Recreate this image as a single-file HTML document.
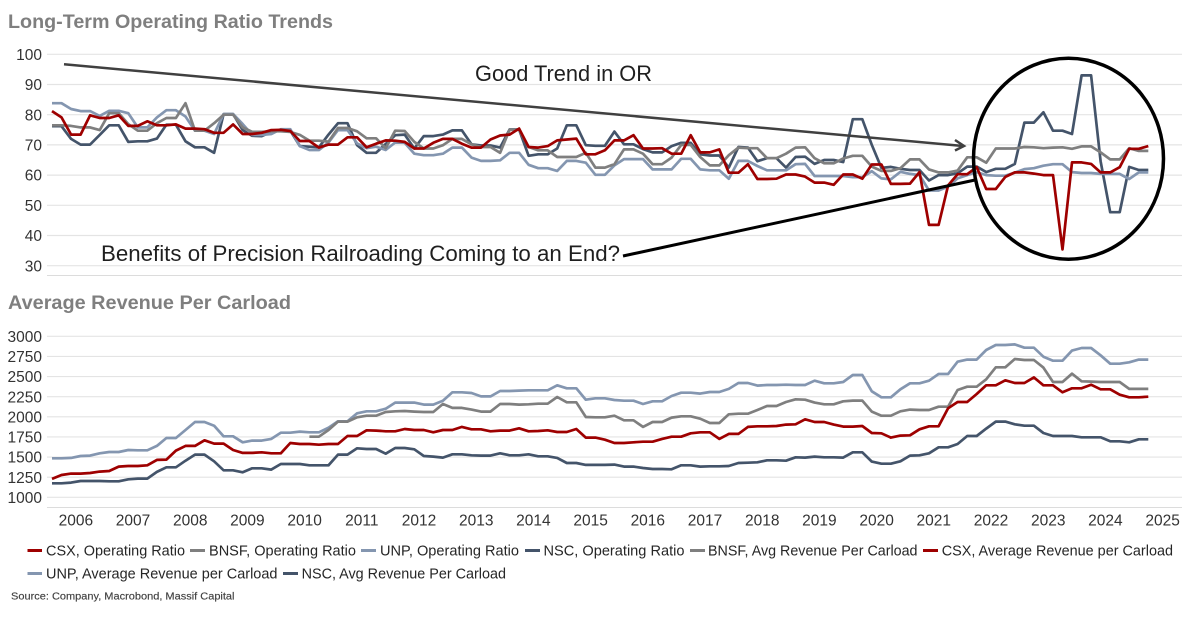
<!DOCTYPE html>
<html lang="en">
<head>
<meta charset="utf-8">
<title>Long-Term Operating Ratio Trends</title>
<style>
html,body{margin:0;padding:0;background:#fff;}
svg{display:block;font-family:"Liberation Sans",sans-serif;}
</style>
</head>
<body>
<svg id="chart" width="1200" height="627" viewBox="0 0 1200 627" xmlns="http://www.w3.org/2000/svg">
<rect width="1200" height="627" fill="#ffffff"/>
<text x="8" y="28" font-size="19" font-weight="bold" fill="#7f7f7f" textLength="325" lengthAdjust="spacingAndGlyphs">Long-Term Operating Ratio Trends</text>
<text x="8" y="309" font-size="19" font-weight="bold" fill="#7f7f7f" textLength="283" lengthAdjust="spacingAndGlyphs">Average Revenue Per Carload</text>
<g id="grid"></g>
<g id="axes"></g>
<g id="series"></g>

<g>
<line x1="64" y1="64.3" x2="963" y2="146" stroke="#404040" stroke-width="2.5"/>
<polyline points="955,140 964,146 955,150.5" fill="none" stroke="#404040" stroke-width="2.5"/>
<line x1="623" y1="256" x2="975" y2="180" stroke="#000000" stroke-width="3"/>
<ellipse cx="1068.5" cy="158.7" rx="95" ry="100.5" fill="none" stroke="#000000" stroke-width="3.5"/>
<text x="475" y="81" font-size="22" fill="#1f1f1f" textLength="177" lengthAdjust="spacingAndGlyphs">Good Trend in OR</text>
<text x="101" y="261" font-size="22" fill="#1f1f1f" textLength="519" lengthAdjust="spacingAndGlyphs">Benefits of Precision Railroading Coming to an End?</text>
</g>

<g font-size="15" fill="#262626">
<g><rect x="27.5" y="549" width="14.5" height="3" fill="#9e0000"/><text x="46" y="555.5" textLength="139" lengthAdjust="spacingAndGlyphs">CSX, Operating Ratio</text></g>
<g><rect x="190" y="549" width="15" height="3" fill="#7f7f7f"/><text x="209" y="555.5" textLength="147" lengthAdjust="spacingAndGlyphs">BNSF, Operating Ratio</text></g>
<g><rect x="361" y="549" width="15" height="3" fill="#8496b0"/><text x="380" y="555.5" textLength="139" lengthAdjust="spacingAndGlyphs">UNP, Operating Ratio</text></g>
<g><rect x="525" y="549" width="15" height="3" fill="#44546a"/><text x="543.5" y="555.5" textLength="141" lengthAdjust="spacingAndGlyphs">NSC, Operating Ratio</text></g>
<g><rect x="690" y="549" width="15" height="3" fill="#7f7f7f"/><text x="708" y="555.5" textLength="209.5" lengthAdjust="spacingAndGlyphs">BNSF, Avg Revenue Per Carload</text></g>
<g><rect x="923" y="549" width="15" height="3" fill="#9e0000"/><text x="941.7" y="555.5" textLength="231.3" lengthAdjust="spacingAndGlyphs">CSX, Average Revenue per Carload</text></g>
<g><rect x="27.5" y="572" width="14.5" height="3" fill="#8496b0"/><text x="46" y="578.5" textLength="231.5" lengthAdjust="spacingAndGlyphs">UNP, Average Revenue per Carload</text></g>
<g><rect x="283" y="572" width="15" height="3" fill="#44546a"/><text x="301.6" y="578.5" textLength="204.4" lengthAdjust="spacingAndGlyphs">NSC, Avg Revenue Per Carload</text></g>
</g>
<text x="11" y="599.5" font-size="10.5" fill="#404040" font-weight="500" stroke="#404040" stroke-width="0.15" textLength="223.5" lengthAdjust="spacingAndGlyphs">Source: Company, Macrobond, Massif Capital</text>
</svg>

<script>
const yearLabels = [2006,2007,2008,2009,2010,2011,2012,2013,2014,2015,2016,2017,2018,2019,2020,2021,2022,2023,2024,2025];
const topTicks = [100,90,80,70,60,50,40,30];
const bottomTicks = [3000,2750,2500,2250,2000,1750,1500,1250,1000];

const csxOR = [81.2,79.1,73.4,73.4,79.8,78.9,78.9,79.8,76.3,76.3,77.8,76.5,76.5,76.8,75.4,75.4,75.2,74,74,76.8,73.6,73.6,74,74.9,75,74.6,71.3,71.3,69.1,70.1,70.1,72.5,72.5,69.2,70.4,71.5,71.4,71,68.8,68.8,70.7,72,72,70.4,69.1,69.1,71.8,73.1,73.4,75.4,69.3,69.1,69.6,71.5,71.8,72.1,66.9,66.9,68.2,71.5,71.5,73.2,68.8,68.8,68.9,67.1,67.1,73.2,67.5,67.5,68.5,60.8,60.8,63.6,58.7,58.7,58.8,60.2,60.2,59.5,57.5,57.5,56.8,60.2,60.2,58.8,63.5,63.5,57.1,57.1,57.2,61,43.5,43.5,56.6,60.3,60.3,62.6,55.4,55.4,59.4,60.9,60.9,60.5,60,60,35.4,64.2,64.2,63.7,60.9,60.9,62.6,68.7,68.7,69.6];
const bnsfOR = [76.5,76.5,76.3,75.8,75.8,74.9,80.5,80.5,76.9,74.7,74.7,77.2,78.9,78.9,83.8,74.7,74.7,77.2,80,80,75.8,74.3,74.3,74.5,74.5,74.3,73.3,71.4,71.4,71.1,75.6,75.6,74.5,72.2,72.2,68.9,74.7,74.6,71,68.8,68.8,69.9,72,72,70.2,69.3,69.3,67.4,75,75,69.3,68.2,68.2,66,66,66,67.4,62.5,62.5,63.6,68.5,68.5,67.1,63.6,63.6,65.8,70,70,66,63.2,63.2,66.6,69.1,68.9,68.9,65.6,65.6,67.1,69.1,69.2,65.6,63.9,63.9,65.5,66.4,66.4,62.8,61.4,61.4,62.3,65.2,65.2,61.9,60.9,60.9,61.5,65.9,65.9,64.1,68.8,68.8,68.8,69.3,69.2,68.9,69.1,69.2,68.7,69.5,69.5,67.5,65.2,65.2,68.9,68,68];
const unpOR = [83.8,83.8,81.9,81.2,81.2,79.6,81.3,81.3,80.5,75.8,75.8,79.1,81.5,81.5,79.4,74.7,74.7,73.6,80.2,80.2,76.9,73.3,73.3,73.6,75.2,75.2,69.6,68.3,68.3,70.8,74.9,74.9,70.5,68.9,69.4,68.3,70.8,70.7,67.1,66.6,66.6,67.1,69.1,69.1,65.8,64.7,64.7,64.9,67.4,67.4,63.4,62.3,62.3,61.4,64.7,64.7,64.1,60.1,60.1,63.2,65.3,65.3,65.3,61.9,61.9,61.9,65.4,65.4,61.9,61.6,61.6,58.8,64.7,64.7,63,61.6,61.6,61.6,63.6,63.7,59.7,59.7,59.7,59.7,59.3,59.3,61.3,58.9,58.6,61.1,60.4,60,54.9,54.9,56.2,58.9,60,61,60,59.8,59.8,60.8,62,62.3,63.1,63.6,63.6,61,60.7,60.7,60.4,60.4,60.4,58.7,60.9,60.9];
const nscOR = [76.2,76.2,72,70.1,70.1,73.3,76.5,76.5,71,71.2,71.2,72.1,76.7,76.7,71.2,69.2,69.2,67.4,80.2,80.2,74.9,73,72.9,74.3,74.9,74.7,69.6,69.4,69.2,73.4,77.2,77.2,69.9,67.4,67.4,70.3,73.2,73.4,68.8,72.9,72.9,73.4,74.8,74.8,70.2,69.8,69.8,69.1,75.1,75.1,66.4,66.9,66.9,68.8,76.5,76.5,69.9,69.7,69.7,74.4,70.2,70.2,68.6,67.5,67.5,69.6,70.7,70.7,66.9,66.5,66.5,62.5,69.3,69.1,64.6,65.6,65.6,62.5,66,66.1,63.7,65,65,64.3,78.5,78.5,70,62.4,62.7,62.1,61.7,61.7,58.2,60,60,60.6,62.8,62.8,61,62.1,62.1,63.7,77.4,77.4,80.8,74.7,74.7,73.6,93,93,64.6,47.7,47.7,62.7,61.7,61.7];

const bnsfRev = [null,null,null,null,null,null,null,null,null,null,null,null,null,null,null,null,null,null,null,null,null,null,null,null,null,null,null,1753,1753,1836,1940,1940,1994,2014,2014,2060,2068,2072,2064,2060,2060,2159,2110,2110,2089,2064,2064,2159,2159,2151,2155,2163,2163,2246,2180,2180,1998,1994,1994,2014,1956,1956,1874,1936,1936,1990,2006,2006,1977,1923,1923,2031,2039,2039,2085,2134,2134,2184,2217,2213,2176,2155,2155,2192,2201,2201,2064,2014,2014,2068,2089,2085,2085,2126,2126,2333,2374,2374,2466,2615,2615,2718,2706,2706,2611,2432,2432,2536,2441,2437,2432,2432,2432,2346,2346,2346];
const csxRev = [1228,1277,1294,1294,1302,1319,1327,1381,1389,1389,1397,1464,1468,1580,1638,1638,1708,1667,1667,1588,1551,1551,1559,1546,1546,1675,1662,1662,1654,1662,1662,1762,1762,1832,1828,1820,1820,1849,1836,1836,1807,1836,1836,1874,1845,1845,1820,1828,1828,1857,1820,1824,1832,1811,1811,1849,1741,1741,1716,1675,1675,1683,1691,1691,1725,1753,1753,1795,1807,1807,1725,1787,1787,1874,1882,1882,1886,1903,1907,1969,1936,1936,1903,1878,1878,1886,1799,1795,1741,1766,1770,1845,1882,1882,2105,2184,2184,2283,2391,2391,2453,2420,2420,2490,2391,2391,2304,2354,2354,2399,2341,2341,2275,2242,2242,2250];
const unpRev = [1484,1484,1489,1513,1518,1546,1563,1563,1588,1584,1584,1638,1737,1737,1836,1936,1936,1890,1758,1758,1683,1704,1704,1725,1803,1803,1816,1807,1807,1865,1944,1944,2043,2068,2068,2101,2176,2176,2176,2151,2151,2200,2304,2304,2296,2254,2254,2321,2321,2325,2329,2329,2329,2391,2354,2354,2213,2230,2230,2209,2200,2200,2159,2192,2192,2259,2300,2300,2288,2308,2308,2346,2420,2420,2387,2395,2395,2399,2395,2395,2449,2416,2416,2432,2519,2519,2317,2242,2242,2341,2416,2416,2449,2532,2532,2685,2710,2710,2830,2892,2892,2900,2859,2859,2747,2697,2697,2822,2855,2855,2764,2660,2660,2677,2710,2710];
const nscRev = [1174,1174,1182,1203,1203,1203,1199,1199,1224,1232,1232,1315,1373,1373,1455,1530,1530,1447,1335,1335,1311,1360,1360,1344,1414,1414,1414,1397,1397,1397,1530,1530,1609,1600,1600,1542,1613,1613,1596,1513,1505,1493,1534,1534,1522,1518,1518,1546,1522,1522,1534,1509,1509,1489,1426,1426,1402,1402,1402,1406,1381,1381,1364,1352,1352,1348,1397,1397,1381,1385,1385,1389,1426,1430,1435,1460,1460,1455,1497,1493,1505,1497,1497,1493,1559,1559,1443,1418,1418,1447,1518,1522,1546,1621,1621,1662,1762,1762,1853,1940,1940,1907,1890,1890,1799,1762,1762,1762,1745,1745,1745,1696,1696,1683,1720,1720];

const SVG_NS = 'http://www.w3.org/2000/svg';
const PLOT_LEFT = 47;
const PLOT_RIGHT = 1182;

function xAt(i) { return 52 + 9.533 * i; }
function yTop(v) { return 54.3 + (100 - v) * 3.02; }
function yBottom(v) { return 336.3 + (3000 - v) * 0.0805; }

function make(tag, attrs, parent) {
  const el = document.createElementNS(SVG_NS, tag);
  for (const k in attrs) el.setAttribute(k, attrs[k]);
  parent.appendChild(el);
  return el;
}

const gridGroup = document.getElementById('grid');
const axesGroup = document.getElementById('axes');
const seriesGroup = document.getElementById('series');

function drawTicks(ticks, yFn, prefix) {
  ticks.forEach(function (t) {
    const line = make('line', {x1: PLOT_LEFT, x2: PLOT_RIGHT, y1: yFn(t), y2: yFn(t), stroke: '#e4e4e4', 'stroke-width': 1.2}, gridGroup);
    
    
    const label = make('text', {x: 42, y: yFn(t) + 5.6, 'text-anchor': 'end', 'font-size': 15.5, fill: '#333333'}, axesGroup);
    
    
    label.textContent = t;
  });
}
drawTicks(topTicks, yTop, 'top-y-axis');
drawTicks(bottomTicks, yBottom, 'bottom-y-axis');

const topBase = make('line', {x1: PLOT_LEFT, x2: PLOT_RIGHT, y1: 275.5, y2: 275.5, stroke: '#dcdcdc', 'stroke-width': 1}, gridGroup);


const bottomBase = make('line', {x1: PLOT_LEFT, x2: PLOT_RIGHT, y1: 507.5, y2: 507.5, stroke: '#dcdcdc', 'stroke-width': 1}, gridGroup);



yearLabels.forEach(function (yr, k) {
  const t = make('text', {x: xAt(2.5 + 6 * k), y: 525.5, 'text-anchor': 'middle', 'font-size': 15.5, fill: '#333333'}, axesGroup);
  
  
  t.textContent = yr;
});

function drawSeries(values, yFn, color, name) {
  let d = '';
  let pen = false;
  values.forEach(function (v, i) {
    if (v === null) { pen = false; return; }
    d += (pen ? 'L' : 'M') + xAt(i).toFixed(1) + ' ' + yFn(v).toFixed(1);
    pen = true;
  });
  const p = make('path', {d: d, fill: 'none', stroke: color, 'stroke-width': 2.7, 'stroke-linejoin': 'round'}, seriesGroup);
  
  
}

drawSeries(nscOR, yTop, '#44546a', 'nsc-operating-ratio-line');
drawSeries(unpOR, yTop, '#8496b0', 'unp-operating-ratio-line');
drawSeries(bnsfOR, yTop, '#7f7f7f', 'bnsf-operating-ratio-line');
drawSeries(csxOR, yTop, '#9e0000', 'csx-operating-ratio-line');
drawSeries(nscRev, yBottom, '#44546a', 'nsc-revenue-line');
drawSeries(unpRev, yBottom, '#8496b0', 'unp-revenue-line');
drawSeries(bnsfRev, yBottom, '#7f7f7f', 'bnsf-revenue-line');
drawSeries(csxRev, yBottom, '#9e0000', 'csx-revenue-line');
</script>
</body>
</html>
